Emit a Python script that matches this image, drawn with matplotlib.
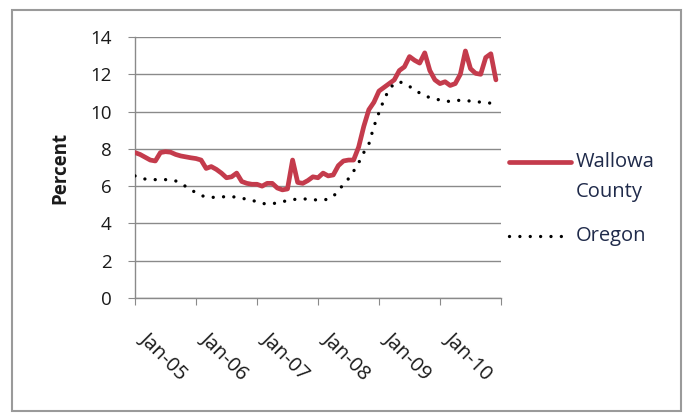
import matplotlib
matplotlib.use("Agg")
import matplotlib.pyplot as plt
import matplotlib.transforms as mtransforms
from matplotlib.lines import Line2D
from matplotlib.patches import Rectangle

months = list(range(72))
tick_positions = [0, 12, 24, 36, 48, 60, 72]
tick_labels = ["Jan-05", "Jan-06", "Jan-07", "Jan-08", "Jan-09", "Jan-10", ""]

wallowa = [7.8, 7.7, 7.55, 7.4, 7.35, 7.8, 7.85, 7.82, 7.7, 7.62, 7.57, 7.52,
           7.48, 7.4, 6.95, 7.05, 6.9, 6.7, 6.45, 6.5, 6.7, 6.25, 6.15, 6.1,
           6.1, 6.0, 6.15, 6.15, 5.9, 5.8, 5.85, 7.4, 6.2, 6.15, 6.3, 6.5,
           6.45, 6.7, 6.55, 6.6, 7.1, 7.35, 7.4, 7.4, 8.1, 9.2, 10.1, 10.5,
           11.1, 11.3, 11.5, 11.7, 12.2, 12.4, 12.95, 12.75, 12.6, 13.15, 12.2, 11.7,
           11.5, 11.6, 11.4, 11.5, 12.0, 13.25, 12.3, 12.05, 12.0, 12.9, 13.1, 11.7]

oregon = [6.55, 6.45, 6.38, 6.35, 6.35, 6.35, 6.35, 6.32, 6.28, 6.15, 5.98, 5.8,
          5.65, 5.5, 5.42, 5.4, 5.4, 5.42, 5.44, 5.44, 5.4, 5.35, 5.3, 5.25,
          5.15, 5.07, 5.05, 5.06, 5.1, 5.17, 5.22, 5.28, 5.3, 5.32, 5.3, 5.27,
          5.26, 5.26, 5.3, 5.45, 5.75, 6.1, 6.4, 6.8, 7.25, 7.8, 8.25, 9.2,
          9.95, 10.65, 11.2, 11.5, 11.6, 11.5, 11.35, 11.15, 11.0, 10.85, 10.75, 10.68,
          10.62, 10.55, 10.55, 10.6, 10.6, 10.57, 10.57, 10.55, 10.5, 10.48, 10.45, 10.4]

series_names = ["Wallowa\nCounty", "Oregon"]

RED = "#C43B4C"
GRID = "#8A8A8A"
TXT = "#1A1A1A"
LEG = "#1F2A4A"
FONT = ["Open Sans", "DejaVu Sans"]

W, H = 686, 415
fig = plt.figure(figsize=(W / 100, H / 100), dpi=100)
fig.patch.set_facecolor("white")

ax = fig.add_axes([135 / W, (H - 298) / H, 366 / W, 261 / H])
ax.plot(months, wallowa, color=RED, lw=3.4, solid_capstyle="round", zorder=3)
ax.plot(months, oregon, color="black", lw=2.4, linestyle=(0, (0.01, 3.1)),
        dash_capstyle="round", zorder=3)

ax.set_xlim(0, 72)
ax.set_ylim(0, 14)
ax.set_yticks(range(0, 15, 2))
ax.set_xticks(tick_positions)
ax.set_xticklabels([])

# rotated x labels placed at the tick positions
base = mtransforms.blended_transform_factory(ax.transData, ax.transAxes)
shift = mtransforms.ScaledTranslation(15 / 100, -30 / 100, fig.dpi_scale_trans)
for pos, text in zip(tick_positions, tick_labels):
    if text:
        ax.text(pos, 0, text, transform=base + shift, rotation=-45,
                rotation_mode="anchor", ha="left", va="top",
                family=FONT, fontsize=14.5, color=TXT, clip_on=False)

for lab in ax.get_yticklabels():
    lab.set_family(FONT)
    lab.set_fontsize(13.5)
    lab.set_color(TXT)

ax.yaxis.grid(True, color=GRID, lw=1.0)
ax.set_axisbelow(True)
for s in ["top", "right"]:
    ax.spines[s].set_visible(False)
for s in ["left", "bottom"]:
    ax.spines[s].set_color(GRID)
    ax.spines[s].set_linewidth(1.0)
ax.tick_params(axis="x", direction="out", length=5, color=GRID)
ax.tick_params(axis="y", direction="out", length=5, color=GRID, pad=12)

ax.set_ylabel("Percent", family=FONT, fontsize=13.5, fontweight="bold", color=TXT, labelpad=14)

# legend drawn manually
def fx(px):
    return px / W

def fy(py):
    return (H - py) / H

fig.add_artist(Line2D([fx(509), fx(571)], [fy(162), fy(162)], color=RED, lw=3.4,
                      solid_capstyle="round"))
fig.add_artist(Line2D([fx(509), fx(568)], [fy(236), fy(236)], color="black", lw=2.4,
                      linestyle=(0, (0.01, 3.1)), dash_capstyle="round"))
fig.text(fx(576), fy(162), "Wallowa", family=FONT, fontsize=14.5, color=LEG,
         va="center", ha="left")
fig.text(fx(576), fy(192), "County", family=FONT, fontsize=14.5, color=LEG,
         va="center", ha="left")
fig.text(fx(576), fy(236), series_names[1], family=FONT, fontsize=14.5, color=LEG,
         va="center", ha="left")

fig.add_artist(Rectangle((fx(12), fy(411)), fx(681) - fx(12), fy(10) - fy(411),
                         fill=False, edgecolor="#9A9A9A", lw=1.5))

fig.savefig("out.png", dpi=100)
